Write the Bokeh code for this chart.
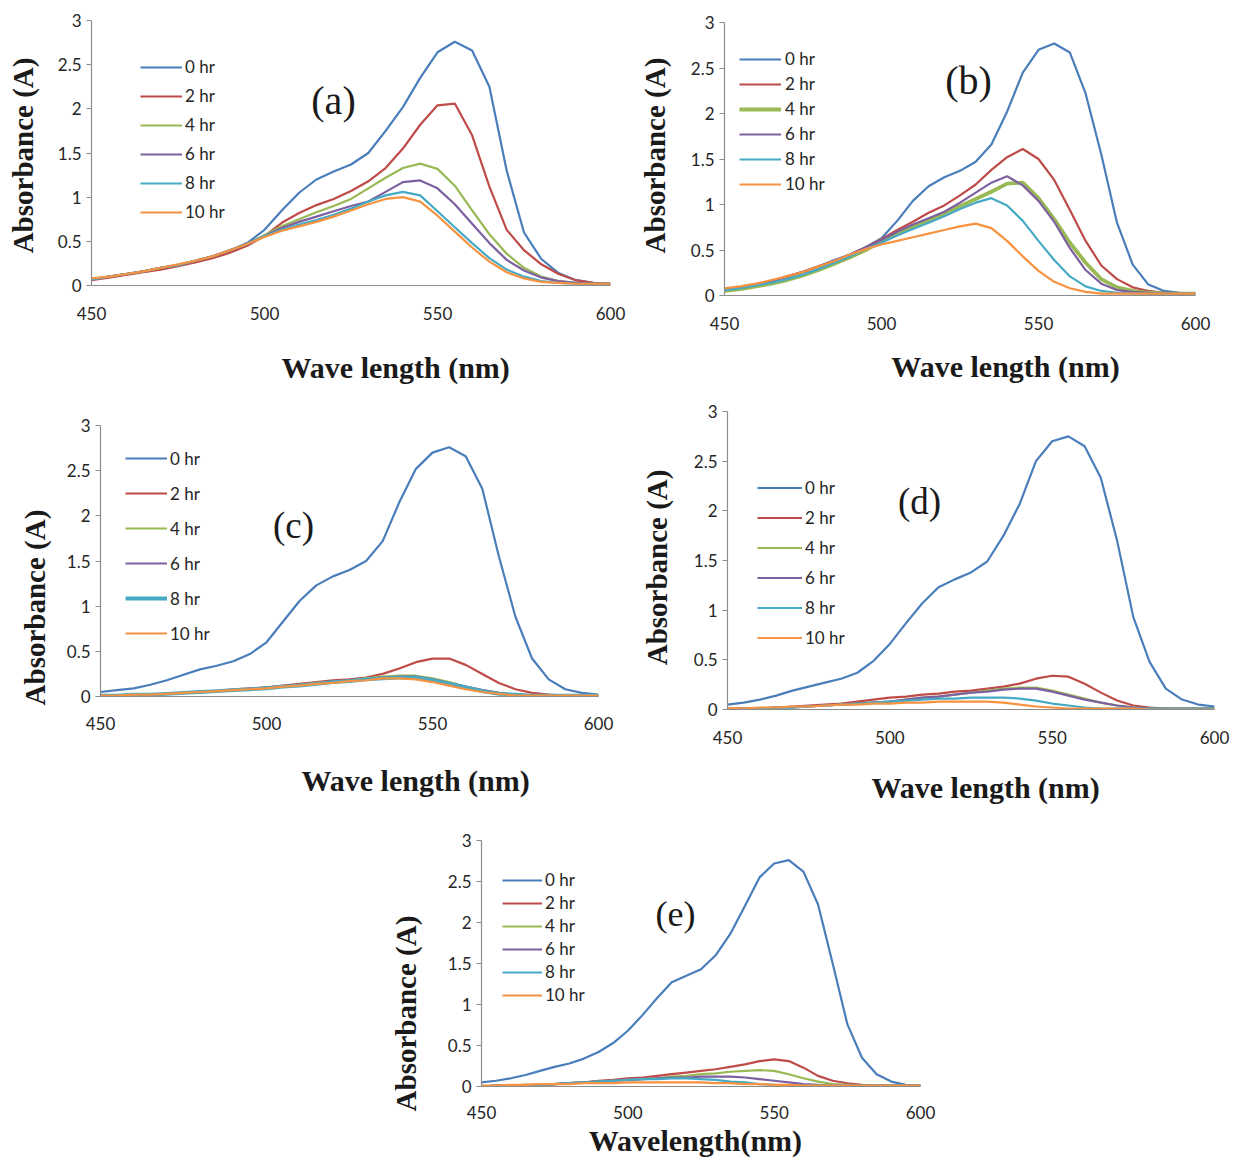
import numpy as np
from bokeh.plotting import figure
from bokeh.models import Legend, LegendItem, Label, FixedTicker, Range1d, Spacer, LinearAxis
from bokeh.layouts import row, column
from bokeh.embed import file_html
from bokeh.resources import INLINE

# ---------------- data ----------------
wavelength = [450, 455, 460, 465, 470, 475, 480, 485, 490, 495, 500, 505, 510, 515, 520,
              525, 530, 535, 540, 545, 550, 555, 560, 565, 570, 575, 580, 585, 590, 595, 600]
series_labels = ["0 hr", "2 hr", "4 hr", "6 hr", "8 hr", "10 hr"]
x_ticks = [450, 500, 550, 600]
y_ticks = [0, 0.5, 1, 1.5, 2, 2.5, 3]
y_tick_labels = ["0", "0.5", "1", "1.5", "2", "2.5", "3"]
panel_letters = ["(a)", "(b)", "(c)", "(d)", "(e)"]
x_titles = ["Wave length (nm)", "Wave length (nm)", "Wave length (nm)", "Wave length (nm)", "Wavelength(nm)"]
y_title = "Absorbance (A)"

a_0hr = [0.07, 0.10, 0.13, 0.16, 0.20, 0.23, 0.28, 0.33, 0.40, 0.48, 0.63, 0.85, 1.05, 1.20, 1.29, 1.37, 1.50, 1.75, 2.02, 2.35, 2.64, 2.76, 2.66, 2.25, 1.30, 0.60, 0.30, 0.14, 0.06, 0.03, 0.02]
a_2hr = [0.06, 0.09, 0.12, 0.15, 0.18, 0.22, 0.26, 0.31, 0.37, 0.45, 0.56, 0.71, 0.82, 0.91, 0.98, 1.07, 1.18, 1.33, 1.55, 1.82, 2.04, 2.06, 1.70, 1.12, 0.63, 0.40, 0.24, 0.13, 0.06, 0.03, 0.02]
a_4hr = [0.07, 0.10, 0.13, 0.16, 0.20, 0.23, 0.28, 0.33, 0.40, 0.47, 0.57, 0.67, 0.75, 0.83, 0.90, 0.98, 1.10, 1.22, 1.33, 1.38, 1.32, 1.13, 0.85, 0.58, 0.36, 0.20, 0.10, 0.05, 0.03, 0.02, 0.02]
a_6hr = [0.07, 0.10, 0.13, 0.16, 0.20, 0.23, 0.28, 0.33, 0.40, 0.47, 0.56, 0.65, 0.72, 0.78, 0.84, 0.90, 0.95, 1.06, 1.17, 1.19, 1.10, 0.92, 0.70, 0.48, 0.29, 0.17, 0.09, 0.05, 0.03, 0.02, 0.02]
a_8hr = [0.07, 0.10, 0.13, 0.16, 0.20, 0.23, 0.28, 0.33, 0.40, 0.47, 0.56, 0.63, 0.69, 0.74, 0.80, 0.87, 0.95, 1.02, 1.06, 1.02, 0.84, 0.66, 0.48, 0.31, 0.18, 0.10, 0.05, 0.03, 0.02, 0.02, 0.02]
a_10hr = [0.08, 0.10, 0.13, 0.16, 0.20, 0.24, 0.28, 0.33, 0.40, 0.47, 0.55, 0.62, 0.67, 0.72, 0.78, 0.85, 0.92, 0.98, 1.00, 0.95, 0.79, 0.61, 0.43, 0.27, 0.15, 0.08, 0.04, 0.03, 0.02, 0.02, 0.02]

b_0hr = [0.06, 0.09, 0.12, 0.16, 0.20, 0.26, 0.32, 0.39, 0.45, 0.53, 0.63, 0.82, 1.04, 1.20, 1.30, 1.37, 1.47, 1.66, 2.02, 2.45, 2.70, 2.77, 2.67, 2.22, 1.55, 0.80, 0.34, 0.12, 0.05, 0.03, 0.02]
b_2hr = [0.07, 0.09, 0.12, 0.16, 0.21, 0.26, 0.32, 0.38, 0.45, 0.53, 0.62, 0.72, 0.81, 0.91, 0.99, 1.10, 1.22, 1.38, 1.52, 1.61, 1.50, 1.27, 0.94, 0.60, 0.33, 0.18, 0.09, 0.05, 0.03, 0.02, 0.02]
b_4hr = [0.05, 0.07, 0.10, 0.13, 0.17, 0.22, 0.28, 0.35, 0.42, 0.50, 0.60, 0.68, 0.75, 0.83, 0.90, 0.98, 1.06, 1.14, 1.23, 1.24, 1.07, 0.84, 0.58, 0.36, 0.18, 0.09, 0.05, 0.03, 0.02, 0.02, 0.02]
b_6hr = [0.07, 0.09, 0.12, 0.16, 0.21, 0.26, 0.32, 0.38, 0.45, 0.53, 0.61, 0.70, 0.78, 0.85, 0.92, 1.02, 1.13, 1.24, 1.31, 1.21, 1.04, 0.81, 0.52, 0.28, 0.13, 0.06, 0.04, 0.03, 0.02, 0.02, 0.02]
b_8hr = [0.06, 0.08, 0.11, 0.14, 0.18, 0.23, 0.29, 0.36, 0.43, 0.51, 0.58, 0.66, 0.73, 0.80, 0.87, 0.95, 1.02, 1.07, 0.99, 0.82, 0.60, 0.39, 0.21, 0.10, 0.05, 0.03, 0.02, 0.02, 0.02, 0.02, 0.02]
b_10hr = [0.08, 0.10, 0.13, 0.17, 0.21, 0.26, 0.32, 0.38, 0.45, 0.51, 0.56, 0.60, 0.64, 0.68, 0.72, 0.76, 0.79, 0.74, 0.60, 0.43, 0.27, 0.15, 0.08, 0.04, 0.02, 0.02, 0.02, 0.02, 0.02, 0.02, 0.02]

c_0hr = [0.05, 0.07, 0.09, 0.13, 0.18, 0.24, 0.30, 0.34, 0.39, 0.47, 0.60, 0.83, 1.06, 1.23, 1.33, 1.40, 1.50, 1.72, 2.15, 2.52, 2.70, 2.76, 2.66, 2.30, 1.55, 0.88, 0.42, 0.19, 0.08, 0.04, 0.02]
c_2hr = [0.01, 0.01, 0.02, 0.02, 0.03, 0.04, 0.05, 0.06, 0.08, 0.09, 0.10, 0.12, 0.14, 0.16, 0.18, 0.19, 0.21, 0.25, 0.31, 0.38, 0.42, 0.42, 0.35, 0.25, 0.15, 0.08, 0.04, 0.02, 0.01, 0.01, 0.01]
c_4hr = [0.01, 0.01, 0.02, 0.02, 0.03, 0.04, 0.05, 0.06, 0.07, 0.08, 0.10, 0.11, 0.13, 0.15, 0.16, 0.18, 0.20, 0.22, 0.23, 0.23, 0.20, 0.16, 0.11, 0.07, 0.04, 0.02, 0.01, 0.01, 0.01, 0.01, 0.01]
c_6hr = [0.01, 0.01, 0.02, 0.02, 0.03, 0.04, 0.05, 0.06, 0.07, 0.08, 0.10, 0.11, 0.13, 0.14, 0.16, 0.18, 0.19, 0.21, 0.22, 0.22, 0.19, 0.15, 0.11, 0.07, 0.04, 0.02, 0.01, 0.01, 0.01, 0.01, 0.01]
c_8hr = [0.01, 0.01, 0.02, 0.02, 0.03, 0.04, 0.05, 0.06, 0.07, 0.08, 0.09, 0.11, 0.12, 0.14, 0.16, 0.17, 0.19, 0.20, 0.21, 0.21, 0.18, 0.14, 0.10, 0.06, 0.03, 0.02, 0.01, 0.01, 0.01, 0.01, 0.01]
c_10hr = [0.01, 0.01, 0.02, 0.02, 0.03, 0.04, 0.05, 0.06, 0.07, 0.08, 0.09, 0.11, 0.12, 0.14, 0.15, 0.17, 0.18, 0.20, 0.20, 0.19, 0.16, 0.12, 0.08, 0.05, 0.03, 0.01, 0.01, 0.01, 0.01, 0.01, 0.01]

d_0hr = [0.05, 0.07, 0.10, 0.14, 0.19, 0.23, 0.27, 0.31, 0.37, 0.49, 0.66, 0.87, 1.07, 1.23, 1.31, 1.38, 1.49, 1.75, 2.07, 2.50, 2.70, 2.75, 2.65, 2.33, 1.70, 0.93, 0.48, 0.21, 0.10, 0.05, 0.03]
d_2hr = [0.01, 0.01, 0.01, 0.02, 0.03, 0.04, 0.05, 0.06, 0.08, 0.10, 0.12, 0.13, 0.15, 0.16, 0.18, 0.19, 0.21, 0.23, 0.26, 0.31, 0.34, 0.33, 0.26, 0.17, 0.09, 0.04, 0.02, 0.01, 0.01, 0.01, 0.01]
d_4hr = [0.00, 0.01, 0.01, 0.02, 0.02, 0.03, 0.04, 0.05, 0.06, 0.07, 0.08, 0.10, 0.12, 0.13, 0.15, 0.17, 0.19, 0.21, 0.22, 0.22, 0.19, 0.15, 0.11, 0.07, 0.04, 0.02, 0.01, 0.01, 0.01, 0.01, 0.01]
d_6hr = [0.00, 0.01, 0.01, 0.02, 0.02, 0.03, 0.04, 0.05, 0.06, 0.07, 0.08, 0.10, 0.12, 0.13, 0.15, 0.17, 0.18, 0.20, 0.21, 0.21, 0.18, 0.14, 0.10, 0.07, 0.04, 0.02, 0.01, 0.01, 0.01, 0.01, 0.01]
d_8hr = [0.00, 0.01, 0.01, 0.02, 0.02, 0.03, 0.04, 0.05, 0.06, 0.07, 0.08, 0.09, 0.10, 0.11, 0.11, 0.12, 0.12, 0.12, 0.11, 0.09, 0.06, 0.04, 0.02, 0.01, 0.01, 0.01, 0.01, 0.01, 0.01, 0.01, 0.01]
d_10hr = [0.01, 0.01, 0.02, 0.02, 0.03, 0.03, 0.04, 0.05, 0.05, 0.06, 0.06, 0.07, 0.07, 0.08, 0.08, 0.08, 0.08, 0.07, 0.05, 0.03, 0.02, 0.01, 0.01, 0.01, 0.01, 0.01, 0.00, 0.00, 0.00, 0.00, 0.00]

e_0hr = [0.05, 0.07, 0.10, 0.14, 0.19, 0.24, 0.28, 0.34, 0.42, 0.53, 0.68, 0.87, 1.08, 1.27, 1.35, 1.43, 1.60, 1.86, 2.20, 2.55, 2.72, 2.76, 2.62, 2.22, 1.50, 0.76, 0.35, 0.15, 0.06, 0.02, 0.01]
e_2hr = [0.00, 0.01, 0.01, 0.02, 0.02, 0.03, 0.04, 0.05, 0.07, 0.08, 0.10, 0.11, 0.13, 0.15, 0.17, 0.19, 0.21, 0.24, 0.27, 0.31, 0.33, 0.31, 0.23, 0.13, 0.07, 0.04, 0.02, 0.01, 0.01, 0.01, 0.01]
e_4hr = [0.00, 0.01, 0.01, 0.02, 0.02, 0.03, 0.04, 0.05, 0.06, 0.07, 0.08, 0.09, 0.10, 0.12, 0.13, 0.15, 0.16, 0.18, 0.19, 0.20, 0.19, 0.15, 0.10, 0.06, 0.03, 0.02, 0.01, 0.01, 0.01, 0.01, 0.01]
e_6hr = [0.00, 0.01, 0.01, 0.01, 0.02, 0.03, 0.04, 0.05, 0.06, 0.07, 0.08, 0.09, 0.10, 0.11, 0.11, 0.12, 0.12, 0.12, 0.11, 0.09, 0.07, 0.05, 0.03, 0.02, 0.01, 0.01, 0.01, 0.01, 0.01, 0.01, 0.01]
e_8hr = [0.00, 0.01, 0.01, 0.01, 0.02, 0.03, 0.04, 0.05, 0.06, 0.07, 0.08, 0.09, 0.09, 0.10, 0.10, 0.09, 0.08, 0.06, 0.05, 0.03, 0.02, 0.01, 0.01, 0.01, 0.01, 0.01, 0.01, 0.01, 0.01, 0.01, 0.01]
e_10hr = [0.01, 0.01, 0.02, 0.02, 0.03, 0.03, 0.03, 0.04, 0.04, 0.04, 0.05, 0.05, 0.05, 0.05, 0.05, 0.05, 0.04, 0.04, 0.03, 0.03, 0.02, 0.02, 0.01, 0.01, 0.01, 0.01, 0.01, 0.01, 0.01, 0.01, 0.01]

panel_series = [
    [a_0hr, a_2hr, a_4hr, a_6hr, a_8hr, a_10hr],
    [b_0hr, b_2hr, b_4hr, b_6hr, b_8hr, b_10hr],
    [c_0hr, c_2hr, c_4hr, c_6hr, c_8hr, c_10hr],
    [d_0hr, d_2hr, d_4hr, d_6hr, d_8hr, d_10hr],
    [e_0hr, e_2hr, e_4hr, e_6hr, e_8hr, e_10hr],
]
for s in panel_series:
    for v in s:
        assert len(v) == len(wavelength)

# ---------------- styling / layout ----------------
COLORS = ["#4A7EBB", "#BE4B48", "#98B954", "#7D60A0", "#46AAC5", "#F69240"]
TICK_FONT = "Lato"
SERIF = "Liberation Serif"
AXIS_GRAY = "#8C8C8C"
BL, BR = 90, 16

# xt_at / yt_at: where along each axis the reference centres its title
layouts = [
    dict(fw=519, fh=265, bt=12, bb=103, widths=[2.2] * 6,
         letter=(242, 185, "40px"), xt_at=537.9, xt_so=28, yt_at=1.472, yt_so=15,
         leg=dict(loc=(49, 63), gw=42, gh=20, sp=8, so=3), tick_so=21, xfs="30px"),
    dict(fw=471, fh=273, bt=12, bb=103, widths=[2.2, 2.2, 3.8, 2.2, 2.2, 2.2],
         letter=(244, 215, "40px"), xt_at=539.5, xt_so=17, yt_at=1.538, yt_so=16,
         leg=dict(loc=(15, 101), gw=42, gh=20, sp=4, so=4), tick_so=21, xfs="30px"),
    dict(fw=498, fh=271, bt=13, bb=106, widths=[2.2, 2.2, 2.2, 2.2, 3.8, 2.2],
         letter=(193, 171, "37px"), xt_at=544.9, xt_so=31, yt_at=0.985, yt_so=12,
         leg=dict(loc=(25, 51), gw=42, gh=24, sp=11, so=3), tick_so=20, xfs="30px"),
    dict(fw=487, fh=298, bt=13, bb=106, widths=[2.2] * 6,
         letter=(192, 208, "37px"), xt_at=529.5, xt_so=24, yt_at=1.43, yt_so=17,
         leg=dict(loc=(30, 61), gw=45, gh=21, sp=9, so=3), tick_so=21, xfs="30px"),
    dict(fw=439, fh=246, bt=25, bb=76, widths=[2.2] * 6,
         letter=(194, 173, "36px"), xt_at=523.1, xt_so=2, yt_at=0.89, yt_so=22,
         leg=dict(loc=(21, 81), gw=40, gh=20, sp=2, so=3), tick_so=19, xfs="30px"),
]


def title_axis(text, at, standoff, size, vertical=False):
    ax = LinearAxis(ticker=FixedTicker(ticks=[at]), major_label_overrides={at: text},
                    axis_line_color=None, major_tick_line_color=None, minor_tick_line_color=None,
                    major_tick_out=0, minor_tick_out=0, major_tick_in=0, minor_tick_in=0,
                    major_label_standoff=standoff,
                    major_label_text_font=SERIF, major_label_text_font_style="bold",
                    major_label_text_font_size=size, major_label_text_color="#1a1a1a")
    if vertical:
        ax.major_label_orientation = "vertical"
    return ax


def make_panel(series, letter, x_title, cfg):
    p = figure(frame_width=cfg["fw"], frame_height=cfg["fh"],
               min_border_left=BL, min_border_right=BR,
               min_border_top=cfg["bt"], min_border_bottom=cfg["bb"],
               x_range=Range1d(450, 600), y_range=Range1d(0, 3),
               output_backend="svg", toolbar_location=None,
               background_fill_color="white", border_fill_color="white")
    p.outline_line_color = None
    p.xgrid.visible = False
    p.ygrid.visible = False

    renderers = []
    for vals, col, w in zip(series, COLORS, cfg["widths"]):
        r = p.line(wavelength, vals, line_color=col, line_width=w)
        renderers.append(r)

    for ax in (p.xaxis[0], p.yaxis[0]):
        ax.axis_line_color = AXIS_GRAY
        ax.axis_line_width = 1.2
        ax.major_tick_line_color = AXIS_GRAY
        ax.minor_tick_line_color = None
        ax.major_tick_in = 0
        ax.major_label_text_font = TICK_FONT
        ax.major_label_text_font_size = "17px"
        ax.major_label_text_color = "#262626"
    p.xaxis[0].ticker = FixedTicker(ticks=x_ticks)
    p.xaxis[0].major_tick_out = 0
    p.xaxis[0].major_label_standoff = cfg["tick_so"]
    p.yaxis[0].ticker = FixedTicker(ticks=y_ticks)
    p.yaxis[0].major_tick_out = 5
    p.yaxis[0].major_label_standoff = 5
    p.yaxis[0].major_label_overrides = {float(t): l for t, l in zip(y_ticks, y_tick_labels)}

    # axis titles, placed off-centre like the reference via line-less outer axes
    p.add_layout(title_axis(x_title, cfg["xt_at"], cfg["xt_so"], cfg["xfs"]), "below")
    p.add_layout(title_axis(y_title, cfg["yt_at"], cfg["yt_so"], "29px", vertical=True), "left")

    lg = cfg["leg"]
    legend = Legend(items=[LegendItem(label=lab, renderers=[r]) for lab, r in zip(series_labels, renderers)],
                    location=lg["loc"], orientation="vertical",
                    glyph_width=lg["gw"], glyph_height=lg["gh"], label_height=lg["gh"],
                    spacing=lg["sp"], label_standoff=lg["so"], padding=0, margin=0,
                    border_line_alpha=0, background_fill_alpha=0,
                    label_text_font=TICK_FONT, label_text_font_size="17px",
                    label_text_color="#262626")
    p.add_layout(legend)

    lx, ly, lsz = cfg["letter"]
    p.add_layout(Label(x=lx, y=ly, x_units="screen", y_units="screen", text=letter,
                       text_font=SERIF, text_font_size=lsz, text_color="#1a1a1a",
                       text_align="center", text_baseline="middle"))
    return p


pa, pb, pc, pd, pe = [make_panel(s, l, t, c) for s, l, t, c in zip(panel_series, panel_letters, x_titles, layouts)]


def sp(w, h):
    return Spacer(width=w, height=h)


layout = column(
    row(sp(1, 1), column(sp(1, 8), pa), sp(8, 1), column(sp(1, 10), pb)),
    row(sp(10, 1), column(sp(1, 14), pc), sp(23, 1), pd),
    row(sp(387, 1), pe),
)

open("out.html", "w").write(file_html(layout, INLINE))
